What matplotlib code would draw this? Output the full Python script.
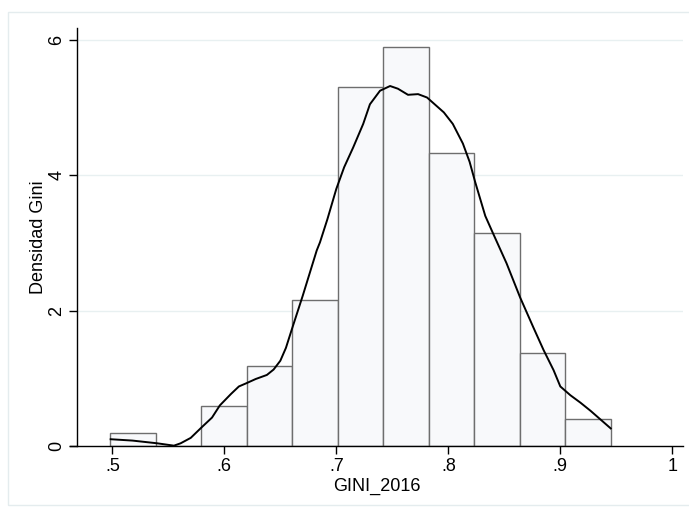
import matplotlib
matplotlib.use("Agg")
import matplotlib.pyplot as plt
from matplotlib.patches import Rectangle
import numpy as np

plt.rcParams['font.family'] = ['Liberation Sans', 'DejaVu Sans']

# histogram of GINI_2016 (11 bins, 125 municipalities)
bin_start = 0.498
bin_width = 0.04066
counts = [1, 0, 3, 6, 11, 27, 30, 22, 16, 7, 2]

# kernel density estimate
kde_x = [0.4985, 0.518, 0.540, 0.555, 0.561, 0.570, 0.580, 0.589, 0.596, 0.606,
         0.613, 0.620, 0.628, 0.638, 0.644, 0.650, 0.655, 0.660, 0.670, 0.6825,
         0.6854, 0.692, 0.700, 0.707, 0.715, 0.724, 0.730, 0.739, 0.748, 0.755,
         0.764, 0.773, 0.781, 0.796, 0.804, 0.813, 0.819, 0.824, 0.833, 0.840,
         0.852, 0.864, 0.876, 0.885, 0.894, 0.900, 0.909, 0.918, 0.927, 0.936,
         0.945]
kde_y = [0.10, 0.08, 0.04, 0.005, 0.04, 0.12, 0.28, 0.42, 0.60, 0.77,
         0.88, 0.93, 0.99, 1.05, 1.13, 1.26, 1.45, 1.71, 2.22, 2.89,
         3.01, 3.35, 3.80, 4.12, 4.41, 4.76, 5.05, 5.25, 5.32, 5.28,
         5.19, 5.20, 5.15, 4.93, 4.76, 4.47, 4.20, 3.90, 3.40, 3.14,
         2.70, 2.20, 1.75, 1.42, 1.12, 0.88, 0.75, 0.64, 0.52, 0.39,
         0.26]

xticks = [0.5, 0.6, 0.7, 0.8, 0.9, 1.0]
xtick_labels = ['.5', '.6', '.7', '.8', '.9', '1']
yticks = [0, 2, 4, 6]

n_obs = sum(counts)
edges = bin_start + bin_width * np.arange(len(counts))
density = np.array(counts) / (n_obs * bin_width)

fig = plt.figure(figsize=(6.89, 5.08), dpi=100)
fig.patch.set_facecolor('white')
fig.add_artist(Rectangle((0.012, 0.006), 1.0, 0.971, transform=fig.transFigure,
                         fill=False, edgecolor='#e4ecee', lw=1.0))

ax = fig.add_axes([0.1016, 0.12205, 0.8901, 0.8228])
ax.set_facecolor('white')
ax.set_xlim(0.4622, 1.0098)
ax.set_ylim(0, 6.177)

# the y axis sits a little right of where the x axis begins
# (set_position resets the ticks, so do it before styling them)
y_axis_x = 0.4682
for side in ['top', 'right']:
    ax.spines[side].set_visible(False)
for side in ['left', 'bottom']:
    ax.spines[side].set_color('black')
    ax.spines[side].set_linewidth(1.0)
ax.spines['left'].set_position(('data', y_axis_x))

for yv in yticks[1:]:
    ax.plot([y_axis_x, 1.0098], [yv, yv], color='#e8f0f1', lw=1.0, zorder=0)

ax.bar(edges, density, width=bin_width, align='edge', color='#f8f9fb',
       edgecolor='#6e6e6e', linewidth=1.0, zorder=2)
ax.plot(kde_x, kde_y, color='black', lw=1.4, zorder=3, solid_joinstyle='round')

ax.set_xticks(xticks)
ax.set_xticklabels(xtick_labels)
ax.set_yticks(yticks)
ax.set_yticklabels([str(v) for v in yticks], rotation=90, va='center')

ax.tick_params(axis='both', direction='out', length=6, width=1.0,
               labelsize=13, colors='black')
ax.tick_params(axis='x', pad=3)
ax.tick_params(axis='y', pad=2)
ax.set_xlabel('GINI_2016', fontsize=13, labelpad=2)
ax.set_ylabel('Densidad Gini', fontsize=13, labelpad=1)

fig.savefig('out.png', dpi=100, facecolor='white')
